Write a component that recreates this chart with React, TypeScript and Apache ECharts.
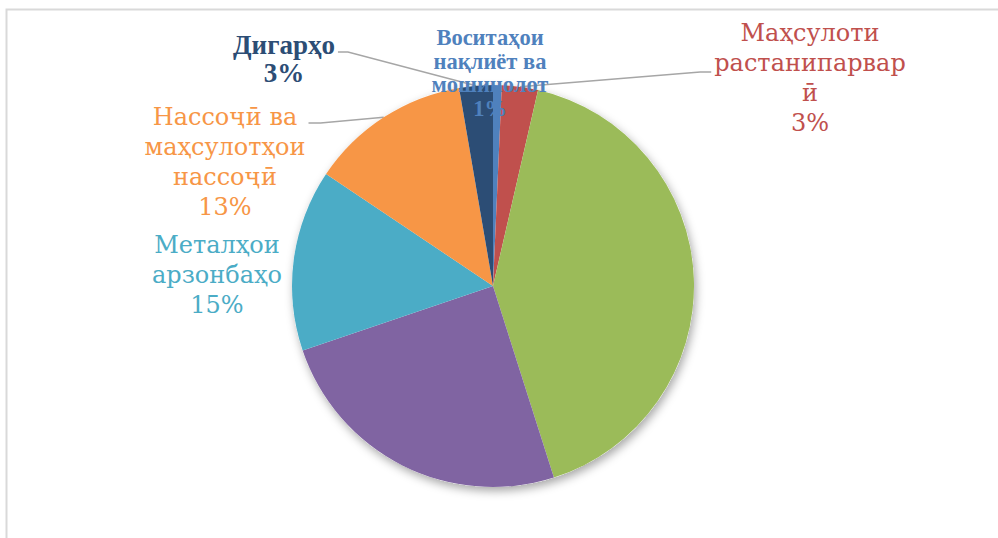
import React, { useEffect, useRef } from "react";
import * as echarts from "echarts";

// Categories in drawing order (clockwise from 12 o'clock)
const categories = [
  "Воситаҳои нақлиёт ва мошинолот",
  "Маҳсулоти растанипарварӣ",
  "Маҳсулоти минералӣ",
  "Сангҳо ва металлҳои қиматбаҳо",
  "Металҳои арзонбаҳо",
  "Нассоҷӣ ва маҳсулотҳои нассоҷӣ",
  "Дигарҳо",
];
// Shares (%)
const shares = [0.7, 2.9, 41.5, 24.7, 14.6, 12.9, 2.7];
// Label texts as wrapped in the picture (empty = no visible label)
const labelTexts = [
  "Воситаҳои\nнақлиёт ва\nмошинолот",
  "Маҳсулоти\nрастанипарвар\nӣ",
  "",
  "",
  "Металҳои\nарзонбаҳо",
  "Нассоҷӣ ва\nмаҳсулотҳои\nнассоҷӣ",
  "Дигарҳо",
];
const sliceColors = ["#4F81BD", "#C0504D", "#9BBB59", "#8064A2", "#4BACC6", "#F79646", "#2C4D75"];

// ---- layout / style (not data) ----
const labelCentres: [number, number][] = [
  [490, 73],
  [810, 78],
  [0, 0],
  [0, 0],
  [217, 275],
  [225, 162],
  [284, 59],
];
const labelFamily = [
  "Liberation Serif",
  "DejaVu Serif",
  "DejaVu Serif",
  "DejaVu Serif",
  "DejaVu Serif",
  "DejaVu Serif",
  "Liberation Serif",
];
const labelFont = [22.5, 24, 24, 24, 24, 24, 27];
const labelWeight = ["bold", "normal", "normal", "normal", "normal", "normal", "bold"];
const labelLineH = [23.5, 30, 30, 30, 30, 30, 28.5];
// leader attach: side of label box, vertical offset from label centre, horizontal segment length
const leader: ({ side: "left" | "right"; dy: number; seg: number } | null)[] = [
  null,
  { side: "left", dy: -6, seg: 11 },
  null,
  null,
  null,
  { side: "right", dy: -39, seg: 12 },
  { side: "right", dy: -7, seg: 10 },
];

export default function App() {
  const ref = useRef<HTMLDivElement>(null);
  useEffect(() => {
    if (!ref.current) return;
    const chart = echarts.init(ref.current, undefined, { renderer: "svg" });
    const data = categories.map((name, i) => ({
      name,
      value: shares[i],
      itemStyle: { color: sliceColors[i] },
      label: {
        show: labelTexts[i] !== "",
        color: sliceColors[i],
        fontFamily: labelFamily[i],
        fontSize: labelFont[i],
        fontWeight: labelWeight[i],
        lineHeight: labelLineH[i],
      },
      labelLine: { show: leader[i] !== null },
    }));
    chart.setOption({
      animation: false,
      backgroundColor: "#ffffff",
      graphic: [
        {
          type: "rect",
          shape: { x: 6.5, y: 9.5, width: 1200, height: 1000 },
          style: { fill: "none", stroke: "#d9d9d9", lineWidth: 2 },
          silent: true,
        },
      ],
      series: [
        {
          type: "pie",
          silent: true,
          z: 1,
          center: [493, 286],
          radius: 201,
          data: [{ value: 1, name: "" }],
          label: { show: false },
          labelLine: { show: false },
          itemStyle: {
            color: "#ffffff",
            shadowBlur: 10,
            shadowColor: "rgba(0,0,0,0.35)",
            shadowOffsetX: 2,
            shadowOffsetY: 4,
          },
        },
        {
          type: "pie",
          z: 2,
          center: [493, 286],
          radius: 201,
          startAngle: 90,
          clockwise: true,
          avoidLabelOverlap: false,
          data,
          itemStyle: { borderWidth: 0 },
          label: {
            position: "outside",
            align: "center",
            formatter: (p: any) => `${labelTexts[p.dataIndex]}\n${Math.round(p.percent)}%`,
          },
          labelLine: {
            lineStyle: { color: "#a6a6a6", width: 1.5 },
            length: 10,
            length2: 10,
          },
          labelLayout: (p: any) => {
            const i = p.dataIndex;
            const c = labelCentres[i];
            const out: any = { x: c[0], y: c[1], align: "center", verticalAlign: "middle" };
            const l = leader[i];
            if (l && p.labelLinePoints && p.labelLinePoints.length) {
              const anchor = p.labelLinePoints[0];
              const w = p.labelRect.width;
              const ex = l.side === "right" ? c[0] + w / 2 + 3 : c[0] - w / 2 - 3;
              const ey = c[1] + l.dy;
              const mx = l.side === "right" ? ex + l.seg : ex - l.seg;
              out.labelLinePoints = [
                [anchor[0], anchor[1]],
                [mx, ey],
                [ex, ey],
              ];
            }
            return out;
          },
        },
      ],
    });
    return () => chart.dispose();
  }, []);
  return (
    <div
      ref={ref}
      style={{ position: "fixed", left: 0, top: 0, width: 998, height: 538 }}
    />
  );
}
